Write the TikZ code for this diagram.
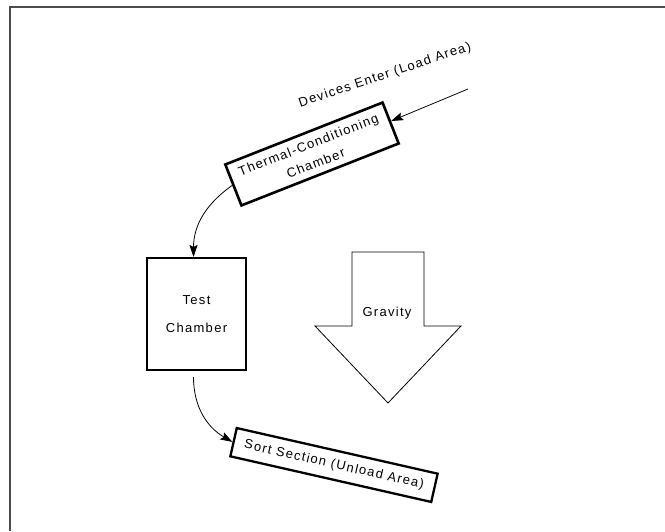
\documentclass[tikz,border=0pt]{standalone}
\usepackage{fontspec}
\setmainfont{Liberation Sans}
\newfontfamily\labfont[LetterSpace=10]{Liberation Sans}
\usetikzlibrary{arrows.meta,calc}
\begin{document}
\begin{tikzpicture}[x=1pt,y=1pt,
  lab/.style={font=\labfont\fontsize{13}{20}\selectfont, align=center},
  boxa/.style={draw, rectangle, inner sep=0pt},
  conn/.style={line width=0.8pt, -{Stealth[length=12pt,width=8pt,inset=2pt]}},
  frameline/.style={draw=black!70, line width=1.6pt}
]
\useasboundingbox (0,0) rectangle (665,531);
\draw[frameline] (9,524) -- (665,524);
\draw[frameline] (10,524.8) -- (10,0);

% Thermal-conditioning chamber
\node[boxa, line width=2.6pt, rotate=21.5, minimum width=169pt, minimum height=44pt, lab] (thermal) at (312,377) {Thermal-Conditioning\\Chamber};
\node[lab, rotate=18.5] (devtext) at (385,455.5) {Devices Enter (Load Area)};
\coordinate (src) at (468,442);
\draw[conn] (src) -- (thermal);

% Test chamber
\node[boxa, line width=2pt, minimum width=99pt, minimum height=112pt, lab, font=\labfont\fontsize{13}{28}\selectfont] (test) at (196.5,217) {Test\\Chamber};

% Sort section
\node[boxa, line width=2.3pt, rotate=-12.8, minimum width=206pt, minimum height=29pt, lab] (sort) at (334,66) {Sort Section (Unload Area)};

% Gravity arrow
\draw[line width=0.8pt] (352,279) -- (424,279) -- (424,205) -- (461,205) -- (388,128) -- (315,205) -- (352,205) -- cycle;
\node[lab] (grav) at (387,218) {Gravity};

% connectors
\draw[conn] (thermal.west) to[out=215,in=90] ([xshift=-3pt]test.north);
\draw[conn] ([xshift=-3pt,yshift=-6pt]test.south) to[out=270,in=150] (sort.west);
\end{tikzpicture}
\end{document}
